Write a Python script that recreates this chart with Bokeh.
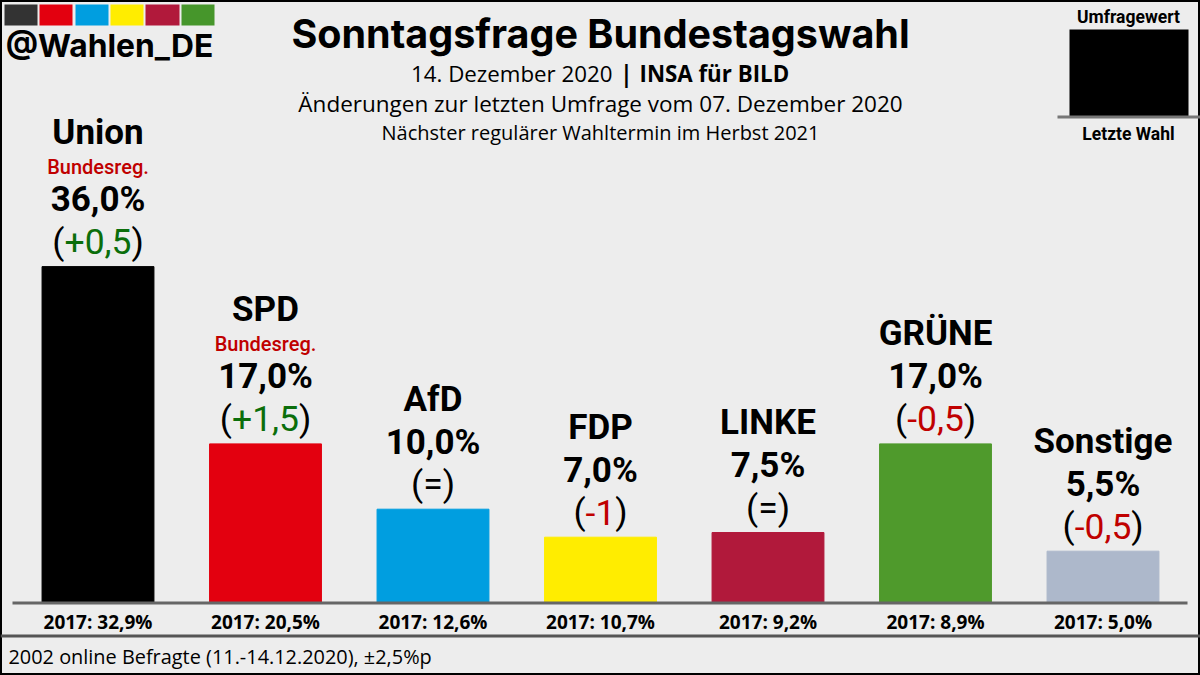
from bokeh.core.properties import value as fixed
from bokeh.plotting import figure
from bokeh.models import ColumnDataSource, FactorRange, Range1d, Label, BoxAnnotation
from bokeh.embed import file_html
from bokeh.resources import INLINE

parties = ["Union", "SPD", "AfD", "FDP", "LINKE", "GRÜNE", "Sonstige"]
values = [36.0, 17.0, 10.0, 7.0, 7.5, 17.0, 5.5]
value_labels = ["36,0%", "17,0%", "10,0%", "7,0%", "7,5%", "17,0%", "5,5%"]
changes = ["+0,5", "+1,5", "=", "-1", "=", "-0,5", "-0,5"]
in_government = [True, True, False, False, False, False, False]
last_election = ["2017: 32,9%", "2017: 20,5%", "2017: 12,6%", "2017: 10,7%",
                 "2017: 9,2%", "2017: 8,9%", "2017: 5,0%"]
bar_colors = ["#000000", "#e3000f", "#009ee0", "#ffed00", "#b1193b", "#4f9a2c", "#adb8cb"]
swatch_colors = ["#333333", "#e3000f", "#009ee0", "#ffed00", "#b1193b", "#46962b"]

title = "Sonntagsfrage Bundestagswahl"
subtitle_a = "14. Dezember 2020"
subtitle_sep = "|"
subtitle_b = "INSA für BILD"
subtitle_2 = "Änderungen zur letzten Umfrage vom 07. Dezember 2020"
subtitle_3 = "Nächster regulärer Wahltermin im Herbst 2021"
handle = "@Wahlen_DE"
footer = "2002 online Befragte (11.-14.12.2020), ±2,5%p"
government_label = "Bundesreg."
legend_top = "Umfragewert"
legend_bottom = "Letzte Wahl"

BG = "#ededed"
W, H = 1200, 675
PX_PER_POINT = 9.33
BASE_Y = 602          # pixel row of the zero line


def chg_color(c):
    return "#0b6e0b" if c.startswith("+") else "#c00000" if c.startswith("-") else "#000000"


ROBOTO_EM = {"+": 0.567, "-": 0.276, "=": 0.549, ",": 0.196}


def half_width(s, size):
    return sum(ROBOTO_EM.get(ch, 0.5615) for ch in s) * size / 2


p = figure(width=W, height=H, output_backend="svg", toolbar_location=None,
           x_range=FactorRange(factors=parties, factor_padding=0, group_padding=0,
                               range_padding=(W / 167.5 - 7) / 2, range_padding_units="absolute"),
           y_range=Range1d(-(H - BASE_Y) / PX_PER_POINT, BASE_Y / PX_PER_POINT),
           min_border=0, background_fill_color=BG, border_fill_color=BG,
           x_axis_location=None, y_axis_location=None)
p.grid.visible = False
p.outline_line_color = "#000000"
p.outline_line_width = 3

CHG = 35.5
src = ColumnDataSource(dict(
    party=parties, value=values, color=bar_colors, label=value_labels,
    change=changes, chg_color=[chg_color(c) for c in changes],
    zero=[0] * 7, last=last_election,
    name_off=[-134 if g else -110 for g in in_government],
    left=["(" for _ in parties], right=[")" for _ in parties],
    left_off=[-half_width(c, CHG) for c in changes],
    right_off=[half_width(c, CHG) for c in changes],
))

p.vbar(x="party", top="value", bottom=0, width=0.668, color="color", source=src)


def text(col, y, y_off, size, font="Roboto", style="bold", color="#000000",
         align="center", x_off=0):
    p.text(x="party", y=y, text=col, source=src, y_offset=y_off, x_offset=x_off,
           text_font=fixed(font), text_font_size=f"{size}px", text_font_style=style,
           text_color=color, text_align=align, text_baseline="middle")


text("party", "value", "name_off", 35)
text("label", "value", -67, 35)
text("change", "value", -25, CHG, style="normal", color="chg_color")
text("left", "value", -25, CHG, style="normal", align="right", x_off="left_off")
text("right", "value", -25, CHG, style="normal", align="left", x_off="right_off")
text("last", "zero", 19, 19, font="Open Sans")

gov_idx = [i for i, g in enumerate(in_government) if g]
p.text(x=[parties[i] for i in gov_idx], y=[values[i] for i in gov_idx],
       text=[government_label] * len(gov_idx), y_offset=-100,
       text_font=fixed("Roboto Medium"), text_font_size="20px",
       text_color="#c00000", text_align="center", text_baseline="middle")


def box(l, r, t, b, color):
    p.add_layout(BoxAnnotation(left=l, right=r, top=H - t, bottom=H - b,
                               left_units="screen", right_units="screen",
                               top_units="screen", bottom_units="screen",
                               fill_color=color, fill_alpha=1, line_color=None,
                               level="overlay"))


def label(s, x, y, size, font, style="normal", align="center", color="#000000"):
    p.add_layout(Label(x=x, y=H - y, x_units="screen", y_units="screen",
                       text=s, text_font=font, text_font_size=f"{size}px",
                       text_font_style=style, text_align=align, text_color=color,
                       text_baseline="middle"))


box(12, 1187, 601, 604, "#666666")       # zero line
box(0, 1200, 634, 637, "#555555")        # footer rule
box(1069, 1188, 29, 116, "#000000")      # legend bar
box(1057, 1200, 115, 118, "#777777")     # legend base

edges = [(4, 37), (39, 72), (75, 108), (110, 143), (145, 179), (181, 214)]
for (l, r), c in zip(edges, swatch_colors):
    box(l, r, 4, 25, c)

label(handle, 109, 45, 31.8, "Inter", "bold")
label(title, 600, 33, 39.5, "Inter", "bold")
label(subtitle_a, 612, 73, 22.3, "Open Sans", align="right")
label(subtitle_sep, 626, 73, 22.3, "Open Sans", "bold")
label(subtitle_b, 639, 73, 22.3, "Open Sans", "bold", align="left")
label(subtitle_2, 600, 103, 22.5, "Open Sans")
label(subtitle_3, 600, 132, 20, "Open Sans")
label(legend_top, 1128, 16, 17.5, "Roboto", "bold")
label(legend_bottom, 1128, 133, 17.5, "Roboto", "bold")
label(footer, 8, 656, 19.9, "Open Sans", align="left")

open("out.html", "w").write(file_html(p, INLINE))
